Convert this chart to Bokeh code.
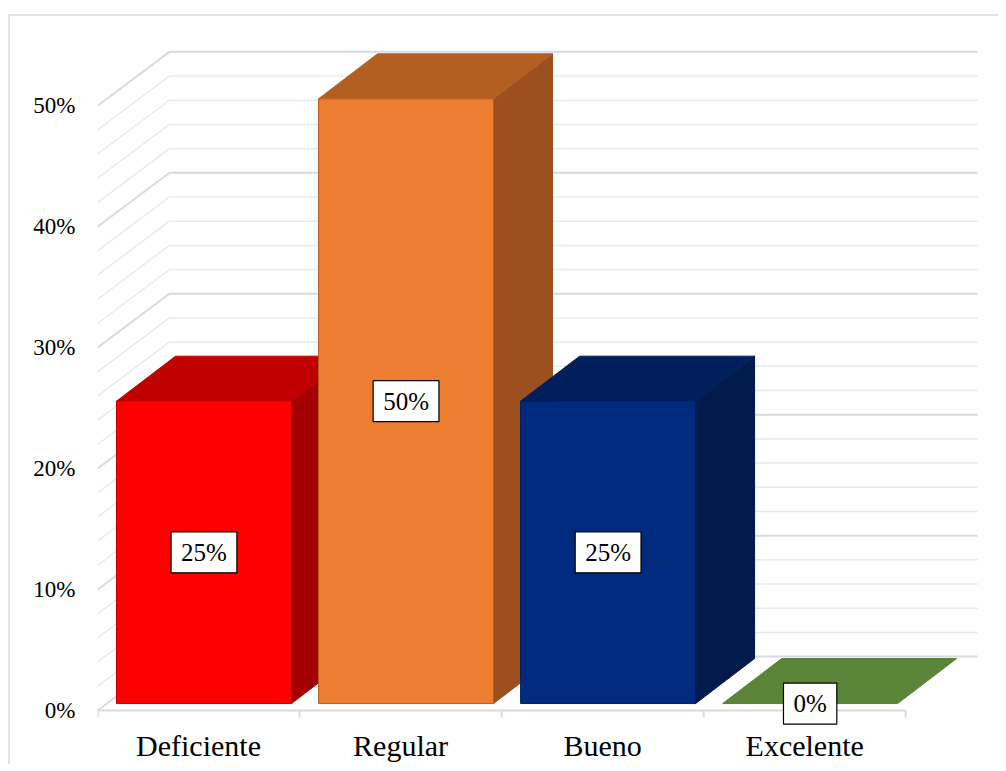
from bokeh.plotting import figure
from bokeh.models import FixedTicker, PrintfTickFormatter, Label, Range1d
from bokeh.embed import file_html
from bokeh.resources import INLINE

# ---------------- data ----------------
categories = ["Deficiente", "Regular", "Bueno", "Excelente"]
values = [25, 50, 25, 0]
value_labels = ["25%", "50%", "25%", "0%"]
y_ticks = [0, 10, 20, 30, 40, 50]
grid_values = list(range(0, 52, 2))

front_colors = ["#FF0000", "#ED7D31", "#002A7E", "#548235"]
top_colors = ["#C00000", "#B45F22", "#001F5C", "#5A8538"]
side_colors = ["#A50000", "#9B501E", "#001A4C", "#476F2D"]

# ---------------- 3D projection constants (style) ----------------
DX, DY = 0.356, 4.46          # wall depth offset (x in categories, y in %)
BF_DX, BF_DY = 0.0465, 0.58   # bar front-face offset behind the front plane
BD_DX, BD_DY = 0.292, 3.72    # bar depth
BAR_X0, BAR_W = 0.094, 0.866  # bar face start / width inside a category
TICK_LEN = 0.58               # category tick length (in %)

GRID_MAJOR = "#d6dae2"
GRID_MINOR = "#e8eaef"
FONT = "Liberation Serif"

p = figure(frame_width=885, frame_height=687,
           x_range=Range1d(0, 4.38), y_range=Range1d(-1.4, 55.4),
           min_border_left=87, min_border_right=16,
           min_border_top=24, min_border_bottom=36,
           output_backend="svg", toolbar_location=None,
           background_fill_color="white", border_fill_color="white")
p.styles = {"margin-top": "14px", "margin-left": "8px",
            "border-top": "2px solid #dfe2e8",
            "border-left": "2px solid #dfe2e8"}
p.grid.visible = False
p.outline_line_color = None

# ---------------- walls (gridlines) ----------------
n = len(categories)
xs, ys, cols, widths = [], [], [], []
for v in grid_values:
    xs.append([0, DX, n + DX])
    ys.append([v, v + DY, v + DY])
    major = (v % 10 == 0)
    cols.append(GRID_MAJOR if major else GRID_MINOR)
    widths.append(2 if major else 1.5)
p.multi_line(xs=xs, ys=ys, line_color=cols, line_width=widths)

# floor front edge and category ticks
p.segment(x0=[0], y0=[0], x1=[n], y1=[0], line_color=GRID_MAJOR, line_width=2)
p.segment(x0=list(range(n + 1)), y0=[0] * (n + 1),
          x1=list(range(n + 1)), y1=[-TICK_LEN] * (n + 1),
          line_color=GRID_MAJOR, line_width=2)

# ---------------- 3D bars ----------------
pxs, pys, fills, lines = [], [], [], []
for i, v in enumerate(values):
    x0 = i + BAR_X0
    x1 = x0 + BAR_W
    yb = BF_DY
    yt = BF_DY + v
    if v > 0:
        pxs.append([x1, x1 + BD_DX, x1 + BD_DX, x1])
        pys.append([yb, yb + BD_DY, yt + BD_DY, yt])
        fills.append(side_colors[i]); lines.append(side_colors[i])
    pxs.append([x0, x1, x1 + BD_DX, x0 + BD_DX])
    pys.append([yt, yt, yt + BD_DY, yt + BD_DY])
    fills.append(top_colors[i]); lines.append(top_colors[i])
    if v > 0:
        pxs.append([x0, x1, x1, x0])
        pys.append([yb, yb, yt, yt])
        fills.append(front_colors[i]); lines.append(top_colors[i])
p.patches(xs=pxs, ys=pys, fill_color=fills, line_color=lines, line_width=1)

# ---------------- data labels ----------------
for i, v in enumerate(values):
    lab = Label(x=i + BAR_X0 + BAR_W / 2, y=BF_DY + v / 2, text=value_labels[i],
                text_align="center", text_baseline="middle",
                text_font=FONT, text_font_size="25px", text_color="black",
                background_fill_color="white", border_line_color="black",
                border_line_width=1.2, padding=(10, 7))
    p.add_layout(lab)

# ---------------- axes ----------------
xa = p.xaxis[0]
xa.ticker = FixedTicker(ticks=[i + 0.5 for i in range(n)], minor_ticks=[])
xa.major_label_overrides = {i + 0.5: c for i, c in enumerate(categories)}
xa.axis_line_color = None
xa.major_tick_line_color = None
xa.minor_tick_line_color = None
xa.major_tick_out = 0
xa.major_tick_in = 0
xa.minor_tick_out = 0
xa.major_label_standoff = 1
xa.major_label_text_font = FONT
xa.major_label_text_font_size = "30px"
xa.major_label_text_color = "black"

ya = p.yaxis[0]
ya.ticker = FixedTicker(ticks=y_ticks)
ya.formatter = PrintfTickFormatter(format="%d%%")
ya.axis_line_color = None
ya.major_tick_line_color = None
ya.minor_tick_line_color = None
ya.major_tick_out = 0
ya.major_label_standoff = 22
ya.major_label_text_font = FONT
ya.major_label_text_font_size = "23px"
ya.major_label_text_color = "black"

open("out.html", "w").write(file_html(p, INLINE))
